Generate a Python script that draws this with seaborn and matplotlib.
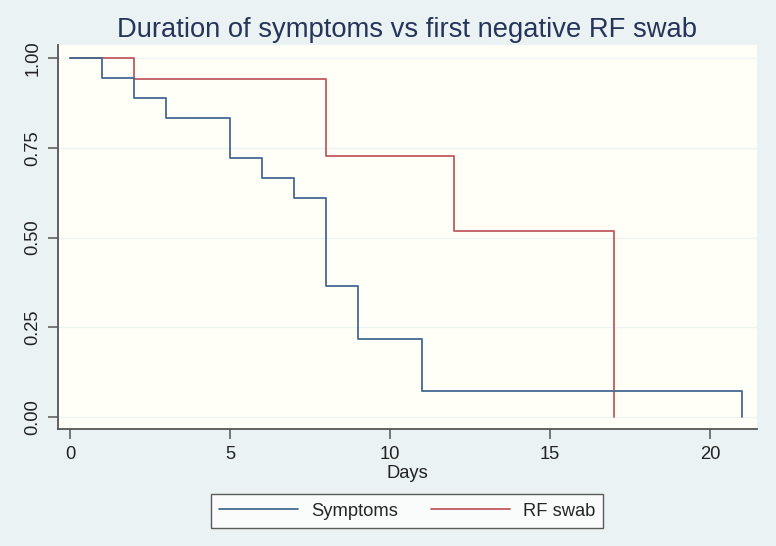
import numpy as np
import pandas as pd
import matplotlib
matplotlib.use("Agg")
import matplotlib.pyplot as plt
import seaborn as sns

# Kaplan-Meier step values
symptom_days = [0, 1, 2, 3, 5, 6, 7, 8, 9, 11, 21]
symptom_surv = [1.0, 0.944, 0.889, 0.833, 0.722, 0.667, 0.611, 0.364, 0.218, 0.073, 0.0]

swab_days = [0, 2, 8, 12, 17]
swab_surv = [1.0, 0.94, 0.726, 0.517, 0.0]

groups = ["Symptoms", "RF swab"]
colors = {"Symptoms": "#44698f", "RF swab": "#c05a60"}

df = pd.concat([
    pd.DataFrame({"Days": symptom_days, "surv": symptom_surv, "group": groups[0]}),
    pd.DataFrame({"Days": swab_days, "surv": swab_surv, "group": groups[1]}),
], ignore_index=True)

sns.set_style("white")
plt.rcParams["font.family"] = ["Liberation Sans", "DejaVu Sans"]

outer_bg = "#eaf2f3"
inner_bg = "#fffff7"

fig = plt.figure(figsize=(7.76, 5.46), dpi=100, facecolor=outer_bg)
ax = fig.add_axes([0.0747, 0.2143, 0.9008, 0.7033])
ax.set_facecolor(inner_bg)

sns.lineplot(data=df, x="Days", y="surv", hue="group", hue_order=groups,
             palette=colors, drawstyle="steps-post", estimator=None, sort=False,
             linewidth=1.3, ax=ax, legend=False)
# symptoms curve sits on top
ax.lines[0].set_zorder(4)
ax.lines[1].set_zorder(3)

ax.set_xlim(-0.375, 21.47)
ax.set_ylim(-0.033, 1.036)
ax.set_xticks([0, 5, 10, 15, 20])
ax.set_yticks([0, 0.25, 0.5, 0.75, 1.0])
ax.set_yticklabels(["0.00", "0.25", "0.50", "0.75", "1.00"], rotation=90, va="center")

for yv in [0, 0.25, 0.5, 0.75, 1.0]:
    ax.axhline(yv, color="#edf3f3", linewidth=1.0, zorder=1)

for s in ["top", "right"]:
    ax.spines[s].set_visible(False)
for s in ["left", "bottom"]:
    ax.spines[s].set_color("#555555")
    ax.spines[s].set_linewidth(1.3)

ax.tick_params(axis="both", direction="out", length=7, width=1.1, color="#555555",
               labelsize=13.2, labelcolor="#222222", left=True, bottom=True, pad=5)

ax.set_xlabel("Days", fontsize=13.2, color="#222222", labelpad=2)
ax.set_ylabel("")

fig.text(0.5247, 0.945, "Duration of symptoms vs first negative RF swab",
         ha="center", va="center", fontsize=19.7, color="#263459")

handles = [plt.Line2D([], [], color=colors[g], linewidth=1.3) for g in groups]
leg = ax.legend(handles, groups, loc="center", bbox_to_anchor=(0.5247, 0.064),
                bbox_transform=fig.transFigure, ncol=2, frameon=True, fancybox=False,
                fontsize=13.2, handlelength=4.3, handletextpad=0.7, columnspacing=1.8,
                borderpad=0.45)
leg.get_frame().set_edgecolor("#333333")
leg.get_frame().set_facecolor("white")
leg.get_frame().set_linewidth(1.0)

fig.savefig("out.png", dpi=100, facecolor=outer_bg)
